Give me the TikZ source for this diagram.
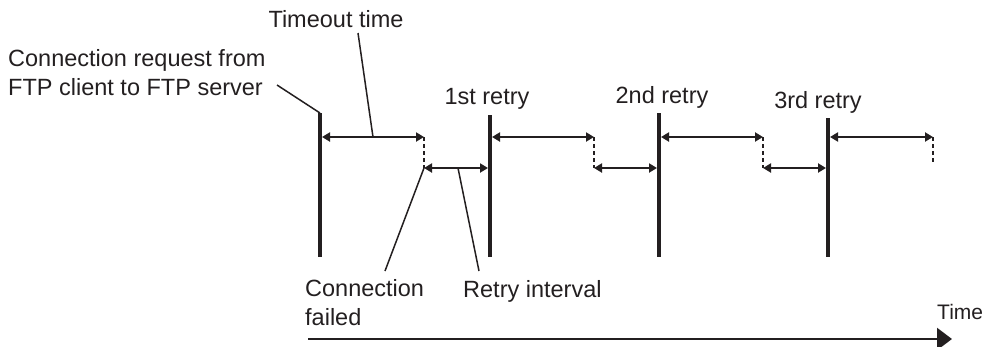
\documentclass[tikz,border=0pt]{standalone}
\usepackage{fontspec}
\setmainfont{Liberation Sans}
\usetikzlibrary{arrows.meta}
\definecolor{ink}{HTML}{231F20}
\begin{document}
\begin{tikzpicture}[x=1pt,y=-1pt,
  every node/.style={inner sep=0pt, text=ink, font=\fontsize{23.5}{29}\selectfont},
  eventline/.style={draw=ink, line width=4.5pt},
  span/.style={draw=ink, line width=2.3pt, {Triangle[length=8pt,width=9pt]}-{Triangle[length=8pt,width=9pt]}},
  dashline/.style={draw=ink, line width=2.3pt, dash pattern=on 4pt off 3pt},
  leader/.style={draw=ink, line width=1.5pt},
  axis/.style={draw=ink, line width=2.3pt, -{Triangle[length=15pt,width=22pt]}}]
\useasboundingbox (0,0) rectangle (986,346);

% event lines
\coordinate (t0) at (320,113); \coordinate (b0) at (320,257);
\coordinate (t1) at (490,115); \coordinate (b1) at (490,257);
\coordinate (t2) at (659,113); \coordinate (b2) at (659,257);
\coordinate (t3) at (828,118); \coordinate (b3) at (828,257);
\foreach \i in {0,1,2,3} {\draw[eventline] (t\i) -- (b\i);}

% timeout spans
\coordinate (s0) at (322,137); \coordinate (e0) at (424,137); \coordinate (d0) at (424,168);
\coordinate (s1) at (492,137); \coordinate (e1) at (594,137); \coordinate (d1) at (594,168);
\coordinate (s2) at (661,137); \coordinate (e2) at (763,137); \coordinate (d2) at (763,168);
\coordinate (s3) at (830,137); \coordinate (e3) at (933,137); \coordinate (d3) at (933,163);
\foreach \i in {0,1,2,3} {\draw[span] (s\i) -- (e\i); \draw[dashline] (e\i) -- (d\i);}

% retry intervals
\coordinate (r1) at (488,168);
\coordinate (r2) at (657,168);
\coordinate (r3) at (826,168);
\draw[span] (d0) -- (r1);
\draw[span] (d1) -- (r2);
\draw[span] (d2) -- (r3);

% labels
\node[anchor=base] (timeout) at (336,27) {Timeout time};
\node[anchor=base west, align=left] (request) at (8,95) {Connection request from\\FTP client to FTP server};
\node[anchor=base] (retry1) at (487,104) {1st retry};
\node[anchor=base] (retry2) at (662,103) {2nd retry};
\node[anchor=base] (retry3) at (818,108) {3rd retry};
\node[anchor=base west, align=left] (failed) at (305,325) {Connection\\failed};
\node[anchor=base west] (interval) at (463,297) {Retry interval};
\node[anchor=base west, font=\fontsize{21}{25}\selectfont] (timelbl) at (937,319) {Time};

% leaders
\coordinate (lt1) at (358,33); \coordinate (lt2) at (373,137);
\draw[leader] (lt1) -- (lt2);
\coordinate (lr1) at (277,85);
\draw[leader] (lr1) -- (t0);
\coordinate (lf1) at (385,271);
\draw[leader] (lf1) -- (d0);
\coordinate (li1) at (479,271); \coordinate (li2) at (458,168);
\draw[leader] (li1) -- (li2);

% time axis
\coordinate (a0) at (308,339); \coordinate (a1) at (952,339);
\draw[axis] (a0) -- (a1);
\end{tikzpicture}
\end{document}
